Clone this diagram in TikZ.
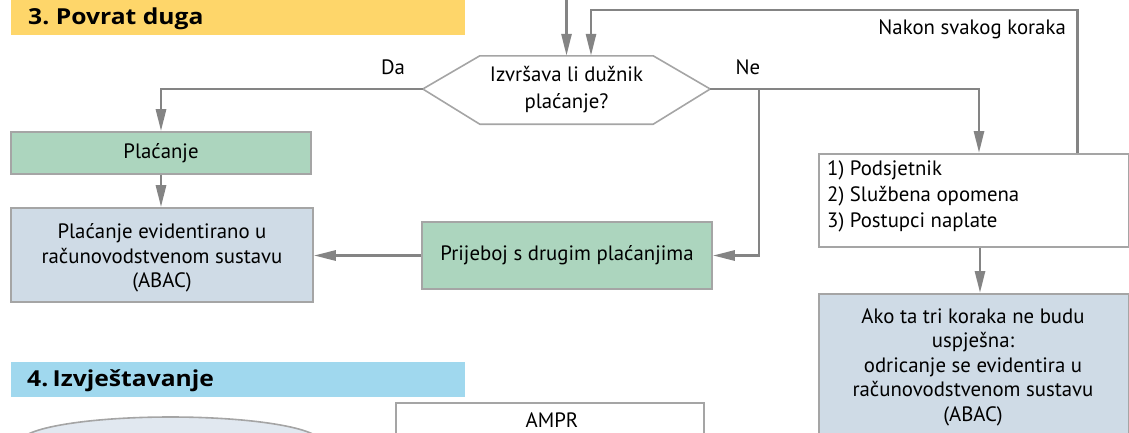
\documentclass[tikz,border=0pt]{standalone}
\usepackage{fontspec}
\setmainfont{PT Sans}
\newfontfamily\hdrfont{Open Sans}[FakeStretch=1.12]
\usetikzlibrary{arrows.meta,calc,shapes.geometric}
\definecolor{hdryel}{HTML}{FED66A}
\definecolor{hdrblue}{HTML}{A0D8EE}
\definecolor{grn}{HTML}{ACD5BE}
\definecolor{bgray}{HTML}{CFDBE6}
\definecolor{ellf}{HTML}{E1E8F0}
\definecolor{edgec}{HTML}{A5A5A5}
\definecolor{connc}{HTML}{848484}
\begin{document}
\begin{tikzpicture}[x=1pt,y=-1pt,
  txt/.style={font=\fontsize{20.8}{24.5}\selectfont, text=black, inner sep=0pt},
  hdr/.style={font=\hdrfont\bfseries\fontsize{22}{26}\selectfont, text=black, inner sep=0pt, anchor=west},
  boxs/.style={draw=edgec, line width=1.6pt, inner sep=0pt, txt, align=center},
  conn/.style={draw=connc, line width=2.8pt, -{Triangle[length=22pt,width=10pt]}},
  plain/.style={draw=connc, line width=2.8pt}]
\useasboundingbox (0,0) rectangle (1129,432);

% headers
\node[fill=hdryel, anchor=north west, minimum width=454pt, minimum height=35pt, inner sep=0pt] (h3) at (11,0) {};
\node[hdr] (h3t) at (28,19) {3.\hspace{0.3em}Povrat duga};
\node[fill=hdrblue, anchor=north west, minimum width=454pt, minimum height=35pt, inner sep=0pt] (h4) at (11,362) {};
\node[hdr] (h4t) at (27,380.5) {4.\hspace{0.2em}Izvještavanje};

% decision hexagon
\node[txt, align=center, minimum width=287pt, minimum height=68pt] (q) at (566.5,90) {Izvršava li dužnik\\[2.5pt]plaćanje?};
\draw[draw=edgec, line width=1.6pt] ($(q.west)+(0,-1)$) coordinate (qw) -- ($(q.north west)+(57,0)$) -- ($(q.north east)+(-57,0)$) -- ($(q.east)+(0,-1)$) coordinate (qe) -- ($(q.south east)+(-57,0)$) -- ($(q.south west)+(57,0)$) -- cycle;

% boxes
\node[boxs, fill=grn, minimum width=300pt, minimum height=42pt] (pl) at (161,153) {Plaćanje};
\node[boxs, fill=bgray, minimum width=302pt, minimum height=94pt] (abac) at (162,255) {};
\node[txt, align=center] (abact) at (162,258) {Plaćanje evidentirano u\\računovodstvenom sustavu\\(ABAC)};
\node[boxs, fill=grn, minimum width=290pt, minimum height=67pt] (prij) at (567,255.5) {Prijeboj s drugim plaćanjima};
\node[boxs, fill=white, anchor=north west, minimum width=310pt, minimum height=93pt] (b1) at (818,153) {};
\node[txt, align=left, anchor=west] (b1t) at (827,196.5) {1) Podsjetnik\\[1.5pt]2) Službena opomena\\[1.5pt]3) Postupci naplate};
\node[boxs, fill=bgray, anchor=north west, minimum width=310pt, minimum height=170pt] (b2) at (818,293) {};
\node[txt, align=center] (b2t) at (973,367) {Ako ta tri koraka ne budu\\uspješna:\\odricanje se evidentira u\\računovodstvenom sustavu\\(ABAC)};

% bottom section
\node[draw=edgec, line width=1.6pt, fill=ellf, ellipse, minimum width=300pt, minimum height=50pt, inner sep=0pt] (ell) at (170.5,442) {};
\node[boxs, fill=white, anchor=north, minimum width=308pt, minimum height=60pt] (ampr) at (550,402) {};
\node[txt] (amprt) at (552,420) {AMPR};

% labels
\node[txt] (da) at (393,67) {Da};
\node[txt] (ne) at (748,67) {Ne};
\node[txt, anchor=east] (nakon) at (1066,29) {Nakon svakog koraka};

% connectors
\coordinate (topin) at (566.5,0);
\draw[conn] (topin) -- (q.north);
\coordinate (fbtop) at (591,10);
\draw[conn] ($(b1.north east)+(-52,0)$) |- (fbtop) -- (fbtop |- q.north);
\draw[conn] (qw) -| (pl.north);
\draw[conn] (qe) -| ($(b1.north west)+(161,0)$);
\coordinate (br) at (759,89);
\draw[conn] (br) |- (prij.east);
\draw[conn] (prij.west) -- (prij.west -| abac.east);
\draw[conn] (pl.south) -- (pl.south |- abac.north);
\draw[conn] ($(b1.south west)+(162,0)$) -- ($(b2.north west)+(162,0)$);
\end{tikzpicture}
\end{document}
